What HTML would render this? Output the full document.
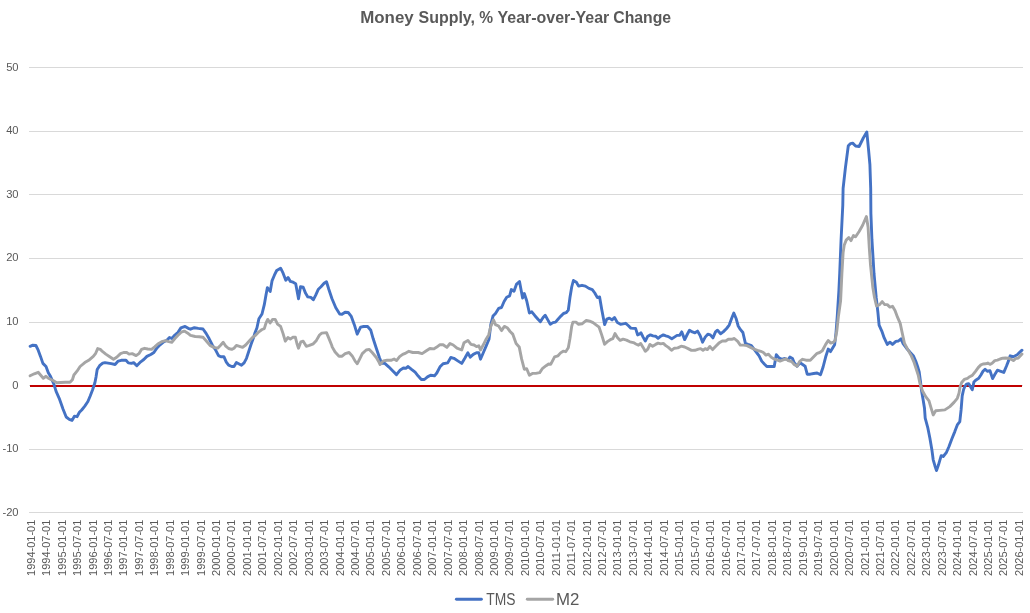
<!DOCTYPE html>
<html lang="en"><head><meta charset="utf-8"><title>Money Supply, % Year-over-Year Change</title>
<style>
html,body{margin:0;padding:0;background:#fff;}
body{width:1030px;height:613px;overflow:hidden;}
svg{display:block;}
text{font-family:"Liberation Sans",Arial,sans-serif;fill:#595959;}
.t{font-weight:bold;font-size:16px;}
.y{font-size:11.2px;text-anchor:end;}
.x{font-size:10.8px;}
.lg{font-size:16px;}
</style></head><body>
<svg width="1030" height="613" viewBox="0 0 1030 613">
<rect width="1030" height="613" fill="#fff"/>
<g class="t"><text x="360.2" y="22.6" textLength="53.5" lengthAdjust="spacingAndGlyphs">Money</text><text x="418.5" y="22.6" textLength="56.5" lengthAdjust="spacingAndGlyphs">Supply,</text><text x="479.2" y="22.6" textLength="13.8" lengthAdjust="spacingAndGlyphs">%</text><text x="497.5" y="22.6" textLength="111.8" lengthAdjust="spacingAndGlyphs">Year-over-Year</text><text x="613.3" y="22.6" textLength="57.8" lengthAdjust="spacingAndGlyphs">Change</text></g>
<g stroke="#D9D9D9" stroke-width="1" shape-rendering="crispEdges"><line x1="29" x2="1023" y1="67.5" y2="67.5"/><line x1="29" x2="1023" y1="131.5" y2="131.5"/><line x1="29" x2="1023" y1="194.5" y2="194.5"/><line x1="29" x2="1023" y1="258.5" y2="258.5"/><line x1="29" x2="1023" y1="322.5" y2="322.5"/><line x1="29" x2="1023" y1="385.5" y2="385.5"/><line x1="29" x2="1023" y1="449.5" y2="449.5"/><line x1="29" x2="1023" y1="512.5" y2="512.5"/></g>
<g class="y"><text x="18.6" y="71.1">50</text><text x="18.6" y="134.3">40</text><text x="18.6" y="198.1">30</text><text x="18.6" y="261.3">20</text><text x="18.6" y="325.2">10</text><text x="18.6" y="389.1">0</text><text x="18.6" y="452.2">-10</text><text x="18.6" y="516.1">-20</text></g>
<g class="x"><text transform="translate(34.75,575.9) rotate(-90)" textLength="56.2" lengthAdjust="spacingAndGlyphs">1994-01-01</text><text transform="translate(50.19,575.9) rotate(-90)" textLength="56.2" lengthAdjust="spacingAndGlyphs">1994-07-01</text><text transform="translate(65.63,575.9) rotate(-90)" textLength="56.2" lengthAdjust="spacingAndGlyphs">1995-01-01</text><text transform="translate(81.07,575.9) rotate(-90)" textLength="56.2" lengthAdjust="spacingAndGlyphs">1995-07-01</text><text transform="translate(96.51,575.9) rotate(-90)" textLength="56.2" lengthAdjust="spacingAndGlyphs">1996-01-01</text><text transform="translate(111.95,575.9) rotate(-90)" textLength="56.2" lengthAdjust="spacingAndGlyphs">1996-07-01</text><text transform="translate(127.39,575.9) rotate(-90)" textLength="56.2" lengthAdjust="spacingAndGlyphs">1997-01-01</text><text transform="translate(142.83,575.9) rotate(-90)" textLength="56.2" lengthAdjust="spacingAndGlyphs">1997-07-01</text><text transform="translate(158.27,575.9) rotate(-90)" textLength="56.2" lengthAdjust="spacingAndGlyphs">1998-01-01</text><text transform="translate(173.71,575.9) rotate(-90)" textLength="56.2" lengthAdjust="spacingAndGlyphs">1998-07-01</text><text transform="translate(189.15,575.9) rotate(-90)" textLength="56.2" lengthAdjust="spacingAndGlyphs">1999-01-01</text><text transform="translate(204.59,575.9) rotate(-90)" textLength="56.2" lengthAdjust="spacingAndGlyphs">1999-07-01</text><text transform="translate(220.03,575.9) rotate(-90)" textLength="56.2" lengthAdjust="spacingAndGlyphs">2000-01-01</text><text transform="translate(235.47,575.9) rotate(-90)" textLength="56.2" lengthAdjust="spacingAndGlyphs">2000-07-01</text><text transform="translate(250.91,575.9) rotate(-90)" textLength="56.2" lengthAdjust="spacingAndGlyphs">2001-01-01</text><text transform="translate(266.35,575.9) rotate(-90)" textLength="56.2" lengthAdjust="spacingAndGlyphs">2001-07-01</text><text transform="translate(281.79,575.9) rotate(-90)" textLength="56.2" lengthAdjust="spacingAndGlyphs">2002-01-01</text><text transform="translate(297.23,575.9) rotate(-90)" textLength="56.2" lengthAdjust="spacingAndGlyphs">2002-07-01</text><text transform="translate(312.67,575.9) rotate(-90)" textLength="56.2" lengthAdjust="spacingAndGlyphs">2003-01-01</text><text transform="translate(328.11,575.9) rotate(-90)" textLength="56.2" lengthAdjust="spacingAndGlyphs">2003-07-01</text><text transform="translate(343.55,575.9) rotate(-90)" textLength="56.2" lengthAdjust="spacingAndGlyphs">2004-01-01</text><text transform="translate(358.99,575.9) rotate(-90)" textLength="56.2" lengthAdjust="spacingAndGlyphs">2004-07-01</text><text transform="translate(374.43,575.9) rotate(-90)" textLength="56.2" lengthAdjust="spacingAndGlyphs">2005-01-01</text><text transform="translate(389.87,575.9) rotate(-90)" textLength="56.2" lengthAdjust="spacingAndGlyphs">2005-07-01</text><text transform="translate(405.31,575.9) rotate(-90)" textLength="56.2" lengthAdjust="spacingAndGlyphs">2006-01-01</text><text transform="translate(420.75,575.9) rotate(-90)" textLength="56.2" lengthAdjust="spacingAndGlyphs">2006-07-01</text><text transform="translate(436.19,575.9) rotate(-90)" textLength="56.2" lengthAdjust="spacingAndGlyphs">2007-01-01</text><text transform="translate(451.63,575.9) rotate(-90)" textLength="56.2" lengthAdjust="spacingAndGlyphs">2007-07-01</text><text transform="translate(467.07,575.9) rotate(-90)" textLength="56.2" lengthAdjust="spacingAndGlyphs">2008-01-01</text><text transform="translate(482.51,575.9) rotate(-90)" textLength="56.2" lengthAdjust="spacingAndGlyphs">2008-07-01</text><text transform="translate(497.95,575.9) rotate(-90)" textLength="56.2" lengthAdjust="spacingAndGlyphs">2009-01-01</text><text transform="translate(513.39,575.9) rotate(-90)" textLength="56.2" lengthAdjust="spacingAndGlyphs">2009-07-01</text><text transform="translate(528.83,575.9) rotate(-90)" textLength="56.2" lengthAdjust="spacingAndGlyphs">2010-01-01</text><text transform="translate(544.27,575.9) rotate(-90)" textLength="56.2" lengthAdjust="spacingAndGlyphs">2010-07-01</text><text transform="translate(559.71,575.9) rotate(-90)" textLength="56.2" lengthAdjust="spacingAndGlyphs">2011-01-01</text><text transform="translate(575.15,575.9) rotate(-90)" textLength="56.2" lengthAdjust="spacingAndGlyphs">2011-07-01</text><text transform="translate(590.59,575.9) rotate(-90)" textLength="56.2" lengthAdjust="spacingAndGlyphs">2012-01-01</text><text transform="translate(606.03,575.9) rotate(-90)" textLength="56.2" lengthAdjust="spacingAndGlyphs">2012-07-01</text><text transform="translate(621.47,575.9) rotate(-90)" textLength="56.2" lengthAdjust="spacingAndGlyphs">2013-01-01</text><text transform="translate(636.91,575.9) rotate(-90)" textLength="56.2" lengthAdjust="spacingAndGlyphs">2013-07-01</text><text transform="translate(652.35,575.9) rotate(-90)" textLength="56.2" lengthAdjust="spacingAndGlyphs">2014-01-01</text><text transform="translate(667.79,575.9) rotate(-90)" textLength="56.2" lengthAdjust="spacingAndGlyphs">2014-07-01</text><text transform="translate(683.23,575.9) rotate(-90)" textLength="56.2" lengthAdjust="spacingAndGlyphs">2015-01-01</text><text transform="translate(698.67,575.9) rotate(-90)" textLength="56.2" lengthAdjust="spacingAndGlyphs">2015-07-01</text><text transform="translate(714.11,575.9) rotate(-90)" textLength="56.2" lengthAdjust="spacingAndGlyphs">2016-01-01</text><text transform="translate(729.55,575.9) rotate(-90)" textLength="56.2" lengthAdjust="spacingAndGlyphs">2016-07-01</text><text transform="translate(744.99,575.9) rotate(-90)" textLength="56.2" lengthAdjust="spacingAndGlyphs">2017-01-01</text><text transform="translate(760.43,575.9) rotate(-90)" textLength="56.2" lengthAdjust="spacingAndGlyphs">2017-07-01</text><text transform="translate(775.87,575.9) rotate(-90)" textLength="56.2" lengthAdjust="spacingAndGlyphs">2018-01-01</text><text transform="translate(791.31,575.9) rotate(-90)" textLength="56.2" lengthAdjust="spacingAndGlyphs">2018-07-01</text><text transform="translate(806.75,575.9) rotate(-90)" textLength="56.2" lengthAdjust="spacingAndGlyphs">2019-01-01</text><text transform="translate(822.19,575.9) rotate(-90)" textLength="56.2" lengthAdjust="spacingAndGlyphs">2019-07-01</text><text transform="translate(837.63,575.9) rotate(-90)" textLength="56.2" lengthAdjust="spacingAndGlyphs">2020-01-01</text><text transform="translate(853.07,575.9) rotate(-90)" textLength="56.2" lengthAdjust="spacingAndGlyphs">2020-07-01</text><text transform="translate(868.51,575.9) rotate(-90)" textLength="56.2" lengthAdjust="spacingAndGlyphs">2021-01-01</text><text transform="translate(883.95,575.9) rotate(-90)" textLength="56.2" lengthAdjust="spacingAndGlyphs">2021-07-01</text><text transform="translate(899.39,575.9) rotate(-90)" textLength="56.2" lengthAdjust="spacingAndGlyphs">2022-01-01</text><text transform="translate(914.83,575.9) rotate(-90)" textLength="56.2" lengthAdjust="spacingAndGlyphs">2022-07-01</text><text transform="translate(930.27,575.9) rotate(-90)" textLength="56.2" lengthAdjust="spacingAndGlyphs">2023-01-01</text><text transform="translate(945.71,575.9) rotate(-90)" textLength="56.2" lengthAdjust="spacingAndGlyphs">2023-07-01</text><text transform="translate(961.15,575.9) rotate(-90)" textLength="56.2" lengthAdjust="spacingAndGlyphs">2024-01-01</text><text transform="translate(976.59,575.9) rotate(-90)" textLength="56.2" lengthAdjust="spacingAndGlyphs">2024-07-01</text><text transform="translate(992.03,575.9) rotate(-90)" textLength="56.2" lengthAdjust="spacingAndGlyphs">2025-01-01</text><text transform="translate(1007.47,575.9) rotate(-90)" textLength="56.2" lengthAdjust="spacingAndGlyphs">2025-07-01</text><text transform="translate(1022.91,575.9) rotate(-90)" textLength="56.2" lengthAdjust="spacingAndGlyphs">2026-01-01</text></g>
<line x1="30" x2="1022" y1="386" y2="386" stroke="#C00000" stroke-width="2"/>
<path d="M30.1,346.3 L32.8,345.2 L35.9,345.5 L38.2,350.2 L40.5,356.4 L42.9,363.4 L46,366.5 L48.3,372.7 L50.6,376.6 L53.7,383.6 L56.1,391.4 L59.2,398.3 L63.1,409.2 L66.2,417 L69.3,419.3 L72.1,420.4 L74.4,416.2 L77,416.7 L79.4,412.3 L81.7,410 L84.8,406.1 L87.9,401.5 L90.2,396 L92.6,389.8 L94.9,382.8 L96.1,376.6 L97.2,369.6 L99.6,365.7 L102.7,363.1 L105,362.6 L108.1,363.1 L111.2,363.7 L115.1,364.5 L118.2,361.1 L121.3,360.3 L126,360.3 L128.3,362.9 L131.4,363.4 L133.7,362.6 L136.8,365.7 L140.7,361.8 L143.8,359.5 L146.9,356.4 L150.8,354.5 L153.9,352.5 L157,347.9 L160.1,344.8 L164,341.7 L167.1,340.1 L169.5,337.5 L171.8,338.5 L174.9,335 L178,332.4 L180.9,327.9 L185.1,326.4 L188.2,328.3 L190.5,329.2 L194.4,327.7 L198.3,328.4 L203,329 L206.1,333.4 L209.2,338.8 L212.3,345 L215.4,349.7 L218.5,355.6 L220.8,356.7 L223.9,356.7 L226.3,362.1 L228.6,365.2 L231.7,366.5 L234,366.5 L236.4,362.6 L238.7,363.7 L241.5,365.2 L244.1,362.9 L246.5,358.3 L248.8,351.3 L251.1,344.3 L253.4,338.1 L255,332.7 L256.9,328 L258.9,318.7 L262,314 L264.3,304.7 L265.9,295.4 L267.4,287.6 L270.2,291.5 L272.1,280.6 L274.4,275.2 L276.7,270.5 L280.6,268.2 L283,272.9 L285.8,280.2 L288.1,277.5 L290.4,281.4 L293.1,282.2 L295.7,283.7 L298.5,298.8 L300.5,286.8 L303.2,287.3 L305.5,293.1 L307.8,296.9 L310.9,297.4 L313.3,299.7 L315.6,295.4 L318.4,289.2 L321,286.8 L324.1,283.3 L326.5,281.7 L328.8,289.2 L331.9,298.5 L335.8,307.8 L339.7,314 L342,314.3 L345.1,312.2 L348.2,312.5 L351.3,316.4 L354.4,324.9 L357.2,334.2 L360.6,327.2 L363.7,326.5 L367.6,326.5 L370.8,330.3 L373.2,338.8 L376.3,348.2 L379.4,357.5 L381.7,363.4 L384.8,363.4 L388.7,366.8 L392.6,370.7 L396.5,374.6 L400.3,369.9 L403.4,368 L405.8,368.3 L408.1,366.5 L411.2,369.1 L415.1,372.2 L418.2,376.1 L421.3,379.5 L424.4,379.5 L427.5,376.9 L430.6,375.3 L434.5,375.8 L436.8,373 L440,366.8 L443.1,363.7 L447.7,362.9 L450.8,357.5 L453.9,358.3 L457.8,360.9 L461.7,363.4 L464.8,358.3 L467.9,352.8 L470.2,357.2 L473.3,354.4 L476.5,352.8 L478.8,352.8 L480.5,359.2 L483.6,352 L486.1,346.1 L489,339.2 L490.8,324.6 L493,316.1 L495.5,313.5 L498.6,308.4 L501.5,307.5 L504.1,301.5 L506.7,297.3 L509.6,295.9 L511.3,289.6 L514,291.3 L516.4,284.4 L519.5,281.5 L521.2,290.4 L522.6,298.1 L524.3,293.5 L526.7,300.7 L529.4,313 L531.8,311.8 L534.9,315.7 L538,319.2 L540.4,321.6 L543.1,317.5 L545.2,315.2 L547.8,319.9 L550.3,324.3 L552.9,322.6 L555.5,322.1 L558,319.2 L560.9,316.1 L563.5,313.5 L566.1,312.7 L568.3,310.1 L570,297.3 L571.7,287 L573.4,280.5 L576.4,282.2 L578.6,286.1 L582,285.3 L585.4,286.1 L588.9,288.4 L592.3,289.6 L594.8,293 L597.4,297.6 L599.6,296.9 L601.7,309.2 L604.6,324.6 L606.8,319.2 L609.4,318.1 L612,319.9 L614.5,317.5 L617.4,322.6 L620.5,324.3 L623.1,323.8 L625.7,323.3 L628.2,325.5 L630.8,328.1 L633.4,328.4 L635.6,328.4 L637.6,334.9 L640.2,333.6 L641,332.8 L643.1,337.1 L645.3,341 L647.8,336.2 L650.4,334.9 L653,335.9 L655.6,336.2 L658.1,338.3 L660.7,336.2 L663.3,334.9 L665.8,335.9 L668.4,336.6 L671.8,338.8 L674.4,337.1 L677,335.4 L679.5,335.4 L681.7,331.9 L684.7,339.6 L687.2,334.5 L689.5,330.2 L692.4,331.9 L694.9,332.8 L697.5,331.1 L700.1,335.4 L702.6,342.2 L705.2,337.1 L707.8,334.2 L710.3,334.9 L712.9,337.9 L715.5,331.9 L717.5,330.2 L720.6,333.7 L723.2,331.9 L726.6,328.5 L729.2,325.1 L731.7,318.2 L733.8,313.1 L736,318.2 L738.2,326 L740.3,329.4 L742.9,332.5 L745.4,343.4 L748,344.4 L751.4,345.6 L754,349.1 L756.6,352.5 L759.1,355.9 L761.7,361.1 L764.3,364 L766.8,366.5 L770.3,366.5 L774.2,366.5 L776.3,354.7 L778.8,357.6 L781.4,359.3 L784.8,358.5 L787.9,359.9 L789.9,357.1 L792.5,358.5 L794.2,362.8 L797.1,366.2 L799.4,363.6 L800,362.8 L802.6,364.5 L805.1,366.2 L807.2,374.2 L810.3,374.2 L813.7,373.5 L817.1,373 L820.5,374.7 L823.1,367 L825.7,356.8 L828.2,349.1 L830.5,351.6 L832.5,348.2 L834.6,344.8 L836,332.8 L837.3,315.7 L838.9,290.6 L839.7,273.5 L841.1,239.2 L842.8,205 L843.1,188.5 L845.4,167.9 L848.3,145.7 L850.5,143.6 L852.7,143.1 L855.6,146 L859.1,146.5 L863.3,138 L866.8,132 L868.5,149.1 L869.9,164.5 L870.7,188.5 L870.9,213.6 L871.9,239.2 L874,273.5 L876.2,297.5 L877.9,312.3 L879.1,325.1 L881.8,331.1 L884.2,337.9 L887.3,344.4 L889.9,342.2 L892.5,344.4 L895.9,341.4 L898.4,341 L901,338.8 L902.9,343.3 L906.5,348.2 L910.5,352.8 L913.5,356 L915.8,361.3 L917.6,366.5 L919.2,372 L920.4,381 L921.6,391 L923,399 L924.5,408.3 L925.2,418.2 L927.9,428.2 L929.9,438.2 L931.9,449.9 L933.2,459.8 L934.9,465.7 L936.5,470.6 L938.5,464.8 L941.2,455.7 L943.2,456.5 L946.5,452.3 L949,446.5 L951.8,439 L954.8,431.6 L957.3,424.9 L959.8,421.6 L961.1,409.9 L962.2,395.9 L963.6,389.5 L964.9,386.3 L966.5,384.1 L968.6,383.6 L970.2,386.3 L972.3,389.7 L973.9,382 L976.1,379.9 L978.7,378.3 L980.9,375 L983,371.3 L985.1,369.2 L987.3,371.3 L990,370.8 L992.6,378.6 L994.8,374.5 L997.4,370.2 L1000.1,371.1 L1003.8,372.4 L1006.5,366 L1008.6,360.6 L1010.2,355.8 L1013.4,356.7 L1017.2,354.8 L1019.9,352.1 L1022,350.2" fill="none" stroke="#4472C4" stroke-width="2.9" stroke-linejoin="round" stroke-linecap="round"/>
<path d="M30.1,375.8 L34.3,373.8 L38.2,372.3 L40.5,375 L43.3,378.2 L46,376.3 L48.3,378.2 L53,380.5 L56.8,382.8 L60.7,382.5 L65.4,382.3 L70,382.3 L72.4,379.7 L73.9,375 L77,371.2 L80.1,366.5 L84.8,362.6 L88.7,360.3 L93.3,356.4 L95.7,353.3 L97.7,348.6 L100.3,349.4 L102.7,351.7 L105.8,354.1 L109.7,356.7 L113.5,359.2 L116.7,357.2 L120.5,353.6 L123.6,352.5 L126.7,352.5 L129.1,354.1 L132.2,353.6 L136.1,355.6 L139.2,353.3 L141.5,349.4 L144.6,348.3 L147.7,349 L151.6,349.4 L154.7,346.8 L157.8,344 L161.7,341.7 L165.6,340.6 L168.7,341.7 L171.8,342.4 L174.9,338.5 L178,335.2 L181.2,332.2 L184.3,331.1 L187.4,332.9 L190.5,335.4 L195.2,336.5 L199.1,336.7 L203,337.3 L206.1,340.7 L210,345.4 L213.8,347.4 L217.7,348.2 L220.8,345 L223.2,342.3 L225.5,345.8 L228.6,348.5 L231.7,349.4 L234,348.2 L236.4,345.4 L239.5,346.3 L242.6,347.4 L245.7,345 L248.8,341.6 L252.7,337.3 L255.8,335 L258.9,331.8 L262,329.5 L264.3,328.7 L265.9,323.3 L267.7,319.4 L270.1,323 L272.6,319.4 L275.2,319.4 L277.5,324.1 L280.6,326.4 L283,333.4 L285.3,341.2 L287.9,337.6 L290.3,339.1 L292.7,337.3 L295.4,337.3 L296.9,343.5 L298.5,348.2 L300.8,341.9 L303.2,341.2 L306.3,346.3 L309.4,345.4 L313.3,343.8 L316.4,340.4 L319.5,335 L321.8,333.1 L326.5,332.6 L328.8,338.1 L331.9,345.8 L332,346.6 L335.1,352 L339,356.2 L342.1,356.2 L345.2,353.6 L349.1,352.5 L352.2,355.9 L355.3,361.4 L357.3,363.7 L360,358.3 L362.3,353.6 L366.2,350 L369.3,349.4 L372.4,352.8 L376.3,357.5 L378.6,361.4 L380.1,364.5 L383.3,360.9 L387.1,360.3 L391,360.3 L394.1,359 L396.5,360.6 L399.6,356.7 L402.7,354.4 L405.8,353.1 L408.9,351.3 L412.8,352.5 L418.2,352.5 L422.1,353.6 L426,351 L429.9,348.5 L433.7,348.9 L436.8,347.1 L440,344.7 L443.1,344.7 L446.9,347.4 L450,343.5 L453.2,345 L457,348.2 L461.7,350 L464,342.7 L467.9,340.4 L471,344.3 L474.1,345 L476.5,346.6 L478.8,345.8 L480.5,350 L483.6,344.3 L486.1,339.2 L488.7,334.9 L490.8,326.4 L493.5,319.9 L495.5,324.6 L498.6,326 L501.5,330.6 L504.4,326.4 L507.2,327.7 L510.1,331.5 L512.7,334.1 L516.1,343.5 L519.2,346.9 L521.6,358.9 L524.3,369.2 L526.7,368.8 L529.4,375.2 L532.4,373.4 L535.8,373.4 L539.7,372.6 L542.6,368.3 L546.1,365.7 L548.6,364 L550.7,364.4 L554.6,356.8 L558,355.8 L560.6,352.9 L563.2,351.2 L565.7,351.7 L568.3,347.8 L570,338.3 L571.7,326.4 L572.9,322.1 L576,322.1 L578.6,324.3 L582,323.8 L586.3,320.4 L589.7,321.2 L593.1,322.6 L595.7,324.6 L599.1,327.2 L601.7,334.9 L604.6,344.3 L607.7,341.4 L610.3,339.7 L612.8,338.7 L615,333.6 L617.4,337.5 L620.2,340.4 L623.1,339.2 L626.5,340.1 L629.9,341.8 L633.4,342.6 L635.9,344 L638.5,345.2 L640.7,343.5 L641,343.9 L643.1,347.4 L645.3,351.3 L647.8,349.1 L649.9,344.4 L652.6,346.2 L655.6,344.4 L658.1,343.1 L660.7,343.9 L663.3,343.4 L665.8,345.6 L668.4,347.4 L671.5,350.3 L674.4,348.2 L677.8,347.9 L681.2,346.2 L684.7,347 L688.1,348.6 L691.5,350.4 L694.9,350.3 L698.4,349.1 L700.6,348.6 L703,350.3 L705.2,348.6 L707.4,349.6 L709.8,346.5 L712.6,349.6 L715.5,346.5 L718.9,343.1 L722.3,341 L725.7,341 L728.3,339.3 L731.7,339.3 L734.3,338.5 L737.7,341.4 L740.3,345.1 L743.7,345.1 L747.1,345.6 L750.6,347.4 L754,349.1 L757.4,350.3 L760.8,351.3 L763.4,352.5 L766,355.1 L768.5,354.2 L771.1,357.1 L773.7,358.8 L777.1,359.9 L780,361.1 L783.1,359.9 L785.7,358.8 L788.2,360.5 L791.7,361.6 L794.2,364.5 L797.1,366.2 L799.4,361.9 L800,361.1 L802.6,359.3 L806,360.2 L810.3,360.2 L813.7,356.8 L817.1,353.3 L819.7,352.5 L822.3,350.8 L825.7,344.4 L828.2,340.5 L830.8,343.1 L833.4,342.2 L835.1,340.5 L836.8,331.1 L838.5,315.7 L840.6,300.9 L841.9,273.5 L843.1,252.9 L844.2,245.2 L846.2,240.1 L848.8,237.5 L851,240.6 L853.4,235.5 L855.6,236.7 L859.1,231.5 L862.5,225.5 L866.4,216.6 L868.1,227.3 L869.3,247.8 L870.5,264.9 L872.8,287.2 L874.5,297.5 L876.5,306 L879.6,304.6 L882.2,301.6 L884.7,304.6 L887.3,304.6 L889.9,307.1 L892.5,306.3 L895,310.5 L897.6,317.4 L900.2,323.4 L902.4,333.7 L904.4,343.1 L907.9,349.9 L911.3,355.9 L913.9,361.9 L916.4,369.6 L918.2,375 L919.9,383.3 L922.4,390.8 L925.7,396.6 L929,400.8 L931.2,408.3 L933.2,414.9 L935.7,410.8 L939.8,410.4 L944.8,409.9 L949.8,406.6 L954,402.4 L957.3,398.3 L959,393.2 L960,387.3 L961.7,382.5 L964.3,379.3 L967.5,378.3 L969.7,376.7 L972.3,375.4 L975.5,371.3 L978.2,367.6 L980.9,364.9 L983,364 L985.7,363.8 L987.8,363 L990,364.4 L992.1,363.3 L994.8,360.6 L997.4,360.1 L1000.1,359 L1002.8,358.2 L1005.4,358 L1008.6,358.2 L1011.3,359.3 L1013.4,360.6 L1015.6,358.7 L1018.3,358 L1020.4,355.8 L1022,354" fill="none" stroke="#A5A5A5" stroke-width="2.9" stroke-linejoin="round" stroke-linecap="round"/>
<line x1="456.4" x2="481.4" y1="599.3" y2="599.3" stroke="#4472C4" stroke-width="2.9" stroke-linecap="round"/><text class="lg" x="486.2" y="605" textLength="29.2" lengthAdjust="spacingAndGlyphs">TMS</text><line x1="527.3" x2="552.7" y1="599.3" y2="599.3" stroke="#A5A5A5" stroke-width="2.9" stroke-linecap="round"/><text class="lg" x="556.0" y="605" textLength="23.4" lengthAdjust="spacingAndGlyphs">M2</text>
</svg></body></html>
